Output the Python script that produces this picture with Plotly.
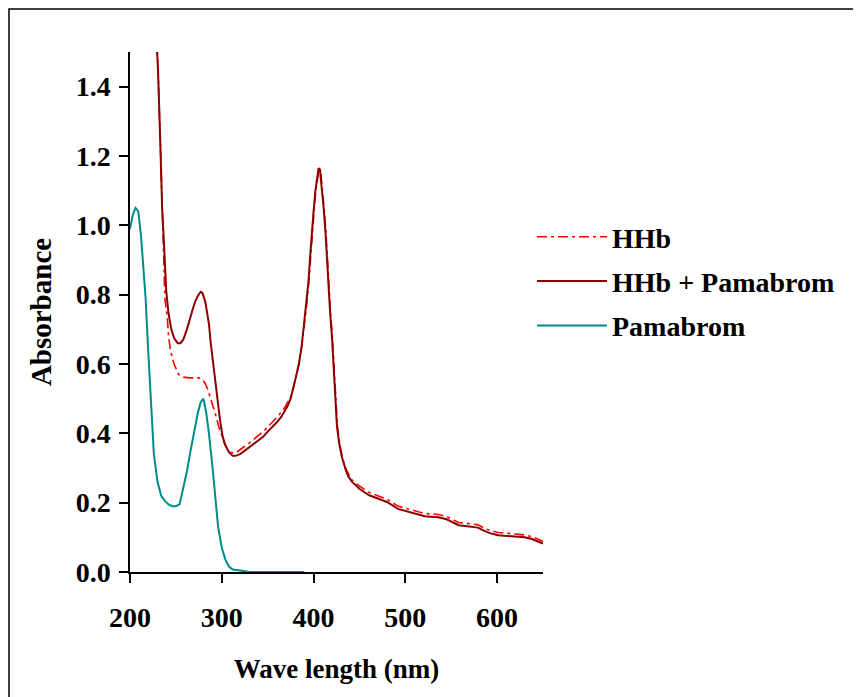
import plotly.graph_objects as go

# HHb + Pamabrom (dark red)
wl_mix = [226, 229, 230.5, 233, 235, 237, 238, 239.5, 242, 245, 248, 252, 255, 258, 262, 265, 268, 271, 274, 277, 279,
          282, 284, 286, 288, 290.5, 293, 295, 298, 301, 304, 308, 312, 315, 320, 325, 330, 335, 340, 345, 350, 355,
          360, 365, 369, 372, 375, 378, 381, 384, 387, 389, 392, 394.5, 396, 398, 400, 402, 404, 405.5, 407, 409,
          411, 413, 416, 418, 420, 423.5, 425.5, 428, 431, 435, 438, 442, 446, 450, 460, 470, 480, 492, 500, 507,
          515, 521, 530, 536, 545, 550, 558, 565, 572, 579, 585, 592, 601, 610, 620, 630, 638, 646, 650]
abs_mix = [1.70, 1.52, 1.45, 1.24, 1.05, 0.95, 0.89, 0.81, 0.745, 0.70, 0.675, 0.66, 0.66, 0.67, 0.70, 0.73, 0.755,
           0.78, 0.797, 0.808, 0.805, 0.78, 0.75, 0.716, 0.66, 0.60, 0.55, 0.505, 0.44, 0.39, 0.365, 0.345, 0.335,
           0.335, 0.34, 0.35, 0.36, 0.37, 0.38, 0.39, 0.405, 0.418, 0.432, 0.448, 0.466, 0.48, 0.50, 0.53, 0.565,
           0.60, 0.65, 0.70, 0.77, 0.84, 0.90, 0.98, 1.04, 1.10, 1.145, 1.165, 1.16, 1.11, 1.05, 0.98, 0.82, 0.75,
           0.68, 0.53, 0.42, 0.37, 0.33, 0.295, 0.275, 0.26, 0.25, 0.24, 0.222, 0.212, 0.202, 0.182, 0.176, 0.171,
           0.165, 0.161, 0.159, 0.158, 0.152, 0.145, 0.135, 0.133, 0.130, 0.128, 0.120, 0.112, 0.106, 0.104, 0.102,
           0.100, 0.095, 0.085, 0.082]

# HHb (red dash-dot)
wl_hhb = [226, 229, 230.5, 233, 235, 236.5, 238, 240.6, 242, 244, 248, 253, 258, 265, 270, 275, 279, 282, 285, 288,
          290.5, 293, 296.7, 300, 303, 306, 310, 313, 317, 322, 330, 340, 347, 355, 362, 369, 372, 375, 378, 381, 384,
          387, 389.5, 392.5, 395, 396.5, 398.5, 400.5, 402.5, 404.5, 406, 407.5, 409.5, 411.5, 413.5, 416.5, 418.5,
          420.5, 424, 426, 428.5, 431.5, 435.5, 438.5, 442, 446, 450, 460, 470, 480, 492, 500, 507, 515, 521, 530,
          536, 545, 550, 558, 565, 572, 579, 585, 592, 601, 610, 620, 630, 638, 646, 650]
abs_hhb = [1.70, 1.52, 1.45, 1.24, 1.05, 0.92, 0.79, 0.735, 0.68, 0.64, 0.60, 0.57, 0.562, 0.56, 0.56, 0.56, 0.555,
           0.543, 0.525, 0.50, 0.48, 0.456, 0.42, 0.39, 0.37, 0.355, 0.345, 0.343, 0.347, 0.357, 0.372, 0.394, 0.41,
           0.432, 0.452, 0.476, 0.49, 0.505, 0.53, 0.565, 0.60, 0.65, 0.70, 0.77, 0.84, 0.90, 0.98, 1.04, 1.10,
           1.145, 1.165, 1.16, 1.11, 1.05, 0.98, 0.82, 0.75, 0.68, 0.53, 0.42, 0.37, 0.33, 0.295, 0.28, 0.265,
           0.256, 0.248, 0.23, 0.22, 0.21, 0.19, 0.185, 0.179, 0.173, 0.169, 0.167, 0.166, 0.16, 0.153, 0.143,
           0.141, 0.138, 0.136, 0.128, 0.12, 0.114, 0.112, 0.109, 0.107, 0.102, 0.092, 0.088]

# Pamabrom (teal)
wl_pam = [200, 203, 206, 209, 212, 214, 217, 220, 223, 226, 230, 234, 238, 242, 246, 250, 254, 258, 262, 266, 270,
          274, 277, 280, 283, 286, 290, 293, 296, 300, 304, 308, 312, 320, 330, 390]
abs_pam = [0.99, 1.03, 1.05, 1.04, 0.97, 0.90, 0.79, 0.63, 0.47, 0.34, 0.26, 0.22, 0.205, 0.195, 0.19, 0.19, 0.195,
           0.24, 0.29, 0.35, 0.41, 0.46, 0.49, 0.50, 0.46, 0.40, 0.30, 0.21, 0.13, 0.07, 0.035, 0.015, 0.007, 0.004,
           0.0, 0.0]

x_ticks = [200, 300, 400, 500, 600]
y_ticks = [0.0, 0.2, 0.4, 0.6, 0.8, 1.0, 1.2, 1.4]

FONT = "Liberation Serif"

fig = go.Figure()
fig.add_trace(go.Scatter(x=wl_hhb, y=abs_hhb, mode="lines", name="<b>HHb</b>", legendgroup="a",
                         line=dict(color="#FF0000", width=1.6, dash="10px,4px,3px,4px")))
fig.add_trace(go.Scatter(x=wl_mix, y=abs_mix, mode="lines", name="<b>HHb + Pamabrom</b>", legendgroup="b",
                         line=dict(color="#8B0000", width=2)))
fig.add_trace(go.Scatter(x=wl_pam, y=abs_pam, mode="lines", name="<b>Pamabrom</b>", legendgroup="c",
                         line=dict(color="#008B8B", width=2)))

OFF = 8  # page body margin
W, H = 861 - OFF, 697 - OFF
# plot area in page pixels
PX0, PX1, PY0, PY1 = 130, 543, 52, 572
L, R, T, B = PX0 - OFF, W - (PX1 - OFF), PY0 - OFF, H - (PY1 - OFF)
pw, ph = PX1 - PX0, PY1 - PY0

def px(x):
    return (x - PX0) / pw

def py(y):
    return (PY1 - y) / ph

fig.update_layout(
    width=W, height=H,
    margin=dict(l=L, r=R, t=T, b=B),
    paper_bgcolor="white", plot_bgcolor="white",
    font=dict(family=FONT, size=27, color="black"),
    showlegend=True,
    legend=dict(x=px(532), y=py(212), xanchor="left", yanchor="top",
                font=dict(family=FONT, size=28, color="black"),
                itemwidth=70, tracegroupgap=5, bgcolor="rgba(0,0,0,0)",
                traceorder="grouped"),
    xaxis=dict(range=[200, 650], tickvals=x_ticks, ticktext=[f"<b>{v}</b>" for v in x_ticks],
               showgrid=False, zeroline=False, showline=True, linecolor="black", linewidth=1.5,
               ticks="outside", ticklen=9, tickwidth=1.5, tickcolor="black",
               tickfont=dict(family=FONT, size=28), ticklabelstandoff=11,
               title=dict(text="<b>Wave length (nm)</b>", font=dict(family=FONT, size=27), standoff=27)),
    yaxis=dict(range=[0, 1.5], tickvals=y_ticks, ticktext=[f"<b>{v:.1f}</b>" for v in y_ticks],
               showgrid=False, zeroline=False, showline=True, linecolor="black", linewidth=1.5,
               ticks="outside", ticklen=9, tickwidth=1.5, tickcolor="black",
               tickfont=dict(family=FONT, size=28), ticklabelstandoff=3,
               title=dict(text="<b>Absorbance</b>", font=dict(family=FONT, size=29), standoff=16)),
    shapes=[dict(type="rect", xref="paper", yref="paper", x0=px(9), x1=px(857), y0=py(720), y1=py(9),
                 line=dict(color="black", width=1.5), fillcolor="rgba(0,0,0,0)", layer="below")],
)

fig.write_html("out.html")
